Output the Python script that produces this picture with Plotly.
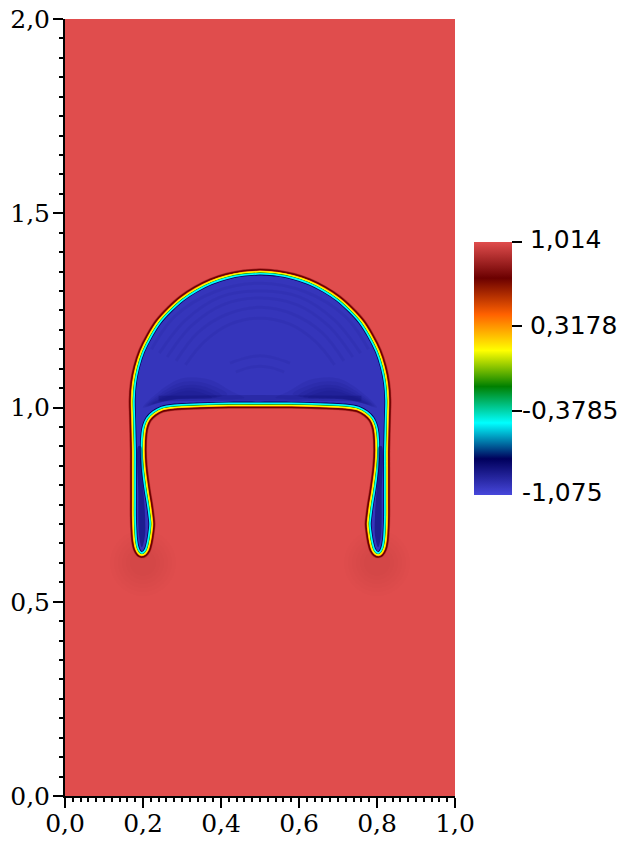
import plotly.graph_objects as go

# colour table of the field, rainbow desaturated
CMAP_POS = [0, 0.143, 0.285, 0.429, 0.571, 0.714, 0.857, 1]
CMAP_RGB = [(71, 71, 219), (0, 0, 92), (0, 255, 255), (0, 128, 0),
            (255, 255, 0), (255, 97, 0), (107, 0, 0), (224, 77, 77)]
Z_MIN = -1.075
Z_MAX = 1.014
CBAR_VALS = [1.014, 0.3178, -0.3785]
CBAR_BLANK = ['', '', '']
CBAR_LABELS = ['\u00a01,014', '\u00a00,3178', '-0,3785', '-1,075']
CBAR_LABEL_Y = [240, 325, 410, 492]

# background of the tank
BG_X = [0, 1]
BG_Y = [0, 2]
BG_Z = [[1.014, 1.014], [1.014, 1.014]]
BUBBLE_VALUE = -1.0

# left half of the bubble edge, apex -> left wall -> skirt tip -> underside
EDGE_X = [0.5, 0.458, 0.417, 0.378, 0.340, 0.305, 0.274, 0.246, 0.224, 0.205, 0.192, 0.184, 0.181,
          0.182, 0.183, 0.184, 0.184, 0.184, 0.184, 0.184, 0.185, 0.187, 0.191, 0.197, 0.203, 0.208,
          0.212, 0.214, 0.212, 0.208, 0.203, 0.198, 0.194, 0.192, 0.194, 0.198, 0.207, 0.224, 0.246,
          0.280, 0.346, 0.420, 0.5]
EDGE_Y = [1.340, 1.337, 1.329, 1.316, 1.297, 1.274, 1.246, 1.215, 1.180, 1.142, 1.102, 1.061, 1.019,
          0.975, 0.934, 0.890, 0.847, 0.805, 0.762, 0.720, 0.690, 0.660, 0.640, 0.630, 0.637, 0.655,
          0.680, 0.700, 0.720, 0.750, 0.780, 0.815, 0.850, 0.890, 0.934, 0.955, 0.975, 0.992, 1.004,
          1.010, 1.013, 1.015, 1.015]

# interface profile: field value and its distance (px) outside the edge
LEVEL_VALUES = [0.95, 0.85, 0.715, 0.715, 0.417, 0.27, 0.118, 0.118, -0.03, -0.179, -0.33, -0.48, -0.48, -0.776]
LEVEL_OFFSETS = [7.2, 6.8, 6.4, 5.6, 4.9, 4.6, 4.3, 3.2, 3.0, 2.8, 2.6, 2.4, 1.2, 0.8]

# faint dark wake under the skirt tips
WAKE_X = [0.2, 0.8]
WAKE_Y = [0.6, 0.6]
WAKE_SIZES = [66, 58, 50, 42, 34, 26]

# dark patches at the base of the dome (left one, the right is its mirror)
PATCH_X = [
    [0.200, 0.240, 0.300, 0.370, 0.430, 0.460, 0.269],
    [0.206, 0.246, 0.304, 0.362, 0.416, 0.272],
    [0.212, 0.252, 0.307, 0.356, 0.402, 0.275],
    [0.218, 0.258, 0.310, 0.350, 0.390, 0.278],
    [0.224, 0.264, 0.312, 0.344, 0.378, 0.280],
]
PATCH_Y = [
    [1.000, 1.040, 1.075, 1.072, 1.040, 1.025, 1.020],
    [1.003, 1.037, 1.066, 1.062, 1.034, 1.020],
    [1.006, 1.034, 1.057, 1.054, 1.030, 1.020],
    [1.008, 1.031, 1.050, 1.047, 1.027, 1.020],
    [1.010, 1.029, 1.043, 1.040, 1.025, 1.020],
]
BAND_X = [0.24, 0.5]
BAND_Y_TOP = [1.030, 1.032]

# darker core of the thin skirts, left one
LEG_X = [0.188, 0.188, 0.190, 0.197, 0.205, 0.205, 0.199, 0.195]
LEG_Y = [0.900, 0.780, 0.670, 0.640, 0.670, 0.725, 0.815, 0.900]

# ripples inside the dome, left half
RIPPLE_X = [
    [0.222, 0.282, 0.384, 0.5],
    [0.242, 0.309, 0.399, 0.5],
    [0.262, 0.324, 0.406, 0.5],
    [0.285, 0.340, 0.415, 0.5],
    [0.309, 0.358, 0.425, 0.5],
    [0.423, 0.462, 0.5],
    [0.438, 0.469, 0.5],
]
RIPPLE_Y = [
    [1.150, 1.235, 1.298, 1.320],
    [1.140, 1.225, 1.285, 1.300],
    [1.130, 1.210, 1.265, 1.282],
    [1.120, 1.192, 1.240, 1.258],
    [1.110, 1.170, 1.215, 1.230],
    [1.114, 1.127, 1.133],
    [1.091, 1.102, 1.106],
]

FONT_AXIS = 'DejaVu Serif'
FONT_CBAR = 'DejaVu Sans'


def mirrored(xs, ys):
    # the bubble is symmetric about x = 0.5
    return xs + [1 - x for x in reversed(xs[:-1])], ys + list(reversed(ys[:-1]))


def level_color(value):
    t = (value - Z_MIN) / (Z_MAX - Z_MIN)
    for i in range(len(CMAP_POS) - 1):
        if t <= CMAP_POS[i + 1]:
            f = (t - CMAP_POS[i]) / (CMAP_POS[i + 1] - CMAP_POS[i])
            c = [a + f * (b - a) for a, b in zip(CMAP_RGB[i], CMAP_RGB[i + 1])]
            return 'rgb(%d,%d,%d)' % tuple(c)
    return 'rgb(%d,%d,%d)' % CMAP_RGB[-1]


def main():
    fig = go.Figure()
    scale = [[p, 'rgb(%d,%d,%d)' % c] for p, c in zip(CMAP_POS, CMAP_RGB)]

    fig.add_trace(go.Heatmap(
        x=BG_X, y=BG_Y, z=BG_Z, zmin=Z_MIN, zmax=Z_MAX, colorscale=scale, hoverinfo='skip',
        colorbar=dict(
            thickness=38, thicknessmode='pixels', len=253, lenmode='pixels',
            x=(474 - 65) / 562, xanchor='left', xpad=0,
            y=(796 - 495) / 777, yanchor='bottom', ypad=0,
            outlinewidth=0, ticks='outside', ticklen=10, tickwidth=2, tickcolor='black',
            tickmode='array', tickvals=CBAR_VALS, ticktext=CBAR_BLANK,
        ),
    ))

    for size in WAKE_SIZES:
        fig.add_trace(go.Scatter(
            x=WAKE_X, y=WAKE_Y, mode='markers', hoverinfo='skip', showlegend=False,
            marker=dict(size=size, color='rgb(107,0,0)', opacity=0.012, line_width=0),
        ))

    edge_x, edge_y = mirrored(EDGE_X, EDGE_Y)
    edge_x = edge_x + edge_x[:1]
    edge_y = edge_y + edge_y[:1]

    # interface bands, widest first
    for value, offset in zip(LEVEL_VALUES, LEVEL_OFFSETS):
        fig.add_trace(go.Scatter(
            x=edge_x, y=edge_y, mode='lines', hoverinfo='skip', showlegend=False,
            line=dict(color=level_color(value), width=2 * offset, shape='spline', smoothing=0.9),
        ))

    # bubble interior
    fig.add_trace(go.Scatter(
        x=edge_x, y=edge_y, mode='lines', fill='toself', fillcolor=level_color(BUBBLE_VALUE),
        hoverinfo='skip', showlegend=False,
        line=dict(color=level_color(BUBBLE_VALUE), width=0, shape='spline', smoothing=0.9),
    ))

    navy = 'rgba(0,0,92,%s)'
    for rx, ry in zip(RIPPLE_X, RIPPLE_Y):
        mx, my = mirrored(rx, ry)
        fig.add_trace(go.Scatter(
            x=mx, y=my, mode='lines', hoverinfo='skip', showlegend=False,
            line=dict(color=navy % 0.06, width=3, shape='spline'),
        ))

    for px, py in zip(PATCH_X, PATCH_Y):
        for xs in (px, [1 - x for x in px]):
            fig.add_trace(go.Scatter(
                x=xs + xs[:1], y=py + py[:1], mode='lines', fill='toself', fillcolor=navy % 0.08,
                hoverinfo='skip', showlegend=False,
                line=dict(width=0, shape='spline', color=navy % 0),
            ))

    for xs in (LEG_X, [1 - x for x in LEG_X]):
        fig.add_trace(go.Scatter(
            x=xs + xs[:1], y=LEG_Y + LEG_Y[:1], mode='lines', fill='toself', fillcolor=navy % 0.45,
            hoverinfo='skip', showlegend=False,
            line=dict(width=0, shape='spline', color=navy % 0),
        ))

    # dark strip over the flat underside
    band_x, band_top = mirrored(BAND_X, BAND_Y_TOP)
    band_low = [y - 0.014 for y in band_top]
    fig.add_trace(go.Scatter(
        x=band_x + band_x[::-1], y=band_top + band_low[::-1], mode='lines', fill='toself',
        fillcolor=navy % 0.2, hoverinfo='skip', showlegend=False, line=dict(width=0, color=navy % 0),
    ))

    axis_style = dict(
        showline=True, linecolor='black', linewidth=2, showgrid=False, zeroline=False,
        ticks='outside', ticklen=10, tickwidth=2, tickcolor='black', tickformat='.1f',
        tickfont=dict(family=FONT_AXIS, size=25, color='black'),
    )
    fig.update_xaxes(range=[0, 1], domain=[0, 390 / 562], dtick=0.2, tick0=0, ticklabelstandoff=-6,
                     minor=dict(ticks='outside', ticklen=4, tickwidth=2, dtick=0.02, tick0=0, tickcolor='black'),
                     **axis_style)
    fig.update_yaxes(range=[0, 2], dtick=0.5, tick0=0, ticklabelstandoff=-2,
                     minor=dict(ticks='outside', ticklen=4, tickwidth=2, dtick=0.05, tick0=0, tickcolor='black'),
                     **axis_style)

    # colour bar labels, digits lined up past the minus sign
    for label, py in zip(CBAR_LABELS, CBAR_LABEL_Y):
        fig.add_annotation(
            text=label, xref='paper', yref='paper', x=(521 - 65) / 562, y=(796 - py) / 777,
            xanchor='left', yanchor='middle', showarrow=False, borderpad=0,
            font=dict(family=FONT_CBAR, size=25, color='black'),
        )

    fig.update_layout(
        width=627, height=845, autosize=False, separators=', ',
        margin=dict(l=65, r=0, t=19, b=49, pad=0, autoexpand=False),
        paper_bgcolor='white', plot_bgcolor='white', showlegend=False,
    )

    fig.write_html("out.html", post_script="document.body.style.margin='0';",
                   config=dict(displayModeBar=False))


if __name__ == "__main__":
    main()
